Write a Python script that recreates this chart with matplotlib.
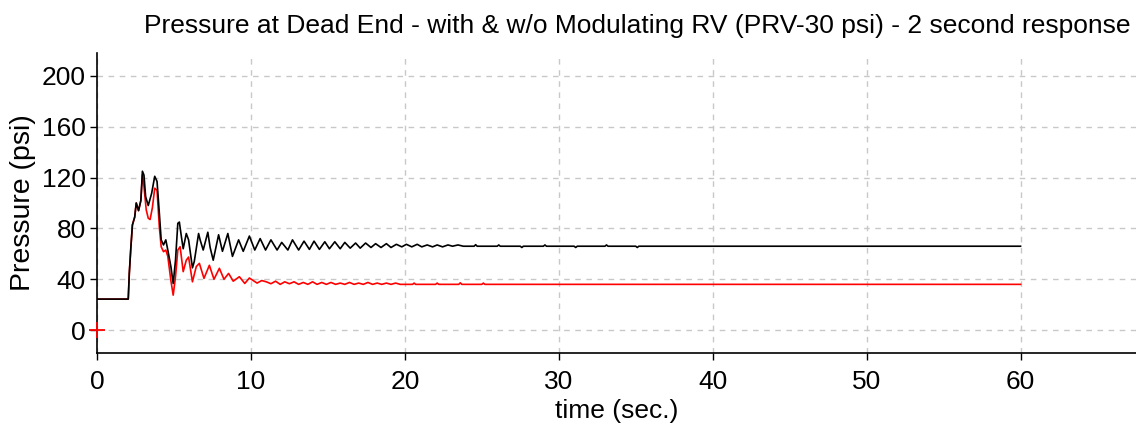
import matplotlib
matplotlib.use('Agg')
import matplotlib.pyplot as plt

# pressure with modulating RV (black) and without (red)
t_with = [0, 2.03, 2.1, 2.2, 2.3, 2.45, 2.55, 2.7, 2.85, 2.95, 3.05, 3.16, 3.33, 3.55, 3.75, 3.9,
          4.05, 4.17, 4.32, 4.47, 4.6, 4.8, 4.95, 5.1, 5.25, 5.35, 5.5, 5.6, 5.8, 5.95, 6.2, 6.32,
          6.6, 6.7, 6.9, 7.2, 7.35, 7.55, 7.9, 8.15, 8.5, 8.8, 9.2, 9.5, 9.9, 10.25, 10.6, 10.95,
          11.3, 11.7, 12.0, 12.4, 12.7, 13.1, 13.45, 13.8, 14.1, 14.45, 14.8, 15.1, 15.45, 15.8,
          16.1, 16.45, 16.8, 17.1, 17.45, 17.8, 18.1, 18.45, 18.8, 19.1, 19.45, 19.8, 20.1, 20.45,
          20.8, 21.1, 21.45, 21.8, 22.1, 22.45, 22.8, 23.1, 23.45, 23.8, 24.5, 24.6, 24.7, 26.0,
          26.1, 26.2, 27.5, 27.6, 27.7, 29.0, 29.1, 29.2, 31.0, 31.1, 31.2, 33.0, 33.1, 33.2,
          35.0, 35.1, 35.2, 60]
p_with = [24.4, 24.4, 45, 65, 82.7, 89, 100, 94, 102, 125, 122, 105, 98, 107.6, 121, 117,
          92, 71, 67, 71, 63, 50, 36.7, 55, 84, 85, 72, 64, 76, 71, 49, 54,
          76, 71, 63, 77, 65, 55, 75, 62, 76, 58, 71, 62, 74, 63, 72, 63,
          71, 63, 69, 63, 71, 63, 70, 63.5, 70, 63.5, 69.5, 64, 69.5, 64,
          69, 64.5, 68.5, 64.5, 68.5, 65, 68, 65, 68, 65, 67.5, 65.5, 67.5, 65.5,
          67.5, 65.5, 67, 65.5, 67, 65.5, 67, 66, 67, 66, 66, 67.2, 66, 66,
          67, 66, 66, 65, 66, 66, 67, 66, 66, 65, 66, 66, 67, 66,
          66, 65, 66, 66]

t_without = [0, 2.03, 2.1, 2.2, 2.3, 2.45, 2.55, 2.7, 2.85, 2.95, 3.05, 3.2, 3.33, 3.45, 3.6, 3.75,
             3.9, 4.05, 4.17, 4.32, 4.47, 4.6, 4.8, 4.95, 5.1, 5.25, 5.4, 5.6, 5.8, 5.95, 6.2, 6.45,
             6.65, 6.95, 7.3, 7.6, 7.95, 8.25, 8.55, 8.85, 9.25, 9.6, 9.9, 10.4, 10.7, 11.0, 11.3,
             11.6, 11.9, 12.2, 12.5, 12.8, 13.1, 13.4, 13.7, 14.0, 14.3, 14.6, 14.9, 15.2, 15.5,
             15.8, 16.1, 16.4, 16.7, 17.0, 17.3, 17.6, 17.9, 18.2, 18.5, 18.8, 19.1, 19.4, 19.7,
             20.5, 20.6, 20.7, 22.0, 22.1, 22.2, 23.5, 23.6, 23.7, 25.0, 25.1, 25.2, 60]
p_without = [24.4, 24.4, 45, 65, 82.7, 89, 100, 94, 102, 122, 113, 94.5, 88, 87, 96.5, 111.6,
             110, 81, 65.6, 61.7, 63, 58, 39, 27.5, 42, 63, 65.6, 46, 55, 57.5, 38, 50,
             52.5, 40.7, 51, 40, 48.6, 40, 44.6, 38.5, 42, 36.7, 41, 37, 39, 38, 36.5,
             38.5, 36, 38, 36.5, 38, 36, 37.5, 36, 38, 36, 37.5, 36, 37.5, 36,
             37, 36, 37.5, 36, 37, 36, 37.5, 36, 37, 36, 37, 36, 37, 36,
             36, 37, 36, 36, 37, 36, 36, 37.2, 36, 36, 37, 36, 36]

x_ticks = [0, 10, 20, 30, 40, 50, 60]
y_ticks = [0, 40, 80, 120, 160, 200]

plt.rcParams['font.family'] = ['Liberation Sans', 'DejaVu Sans']

fig = plt.figure(figsize=(11.36, 4.30), dpi=100)
ax = fig.add_axes([97 / 1136, 1 - 353 / 430, 1 - 97 / 1136, 300 / 430])

ax.plot(t_without, p_without, color='red', lw=1.2)
ax.plot([0], [0], '+', color='red', ms=11, mew=1.3, clip_on=False, zorder=5)
ax.plot(t_with, p_with, color='black', lw=1.2)

ax.set_xlim(0, 67.5)
ax.set_ylim(-18, 218)
ax.set_xticks(x_ticks)
ax.set_yticks(y_ticks)
ax.grid(True, color='#c8c8c8', linestyle=(0, (4, 4)), lw=1.0)
ax.set_axisbelow(True)

for s in ['top', 'right']:
    ax.spines[s].set_visible(False)
for s in ['left', 'bottom']:
    ax.spines[s].set_linewidth(1.2)

ax.tick_params(labelsize=19, length=5, width=1, direction='out')
ax.tick_params(axis='x', pad=7)
ax.tick_params(axis='y', pad=3)
ax.set_xlabel('time (sec.)', fontsize=19, labelpad=4)
ax.set_ylabel('Pressure (psi)', fontsize=20.5, labelpad=4)

fig.text(0.995, 1 - 26 / 430,
         'Pressure at Dead End - with & w/o Modulating RV (PRV-30 psi) - 2 second response',
         ha='right', va='center', fontsize=19)

plt.savefig('out.png', dpi=100)
